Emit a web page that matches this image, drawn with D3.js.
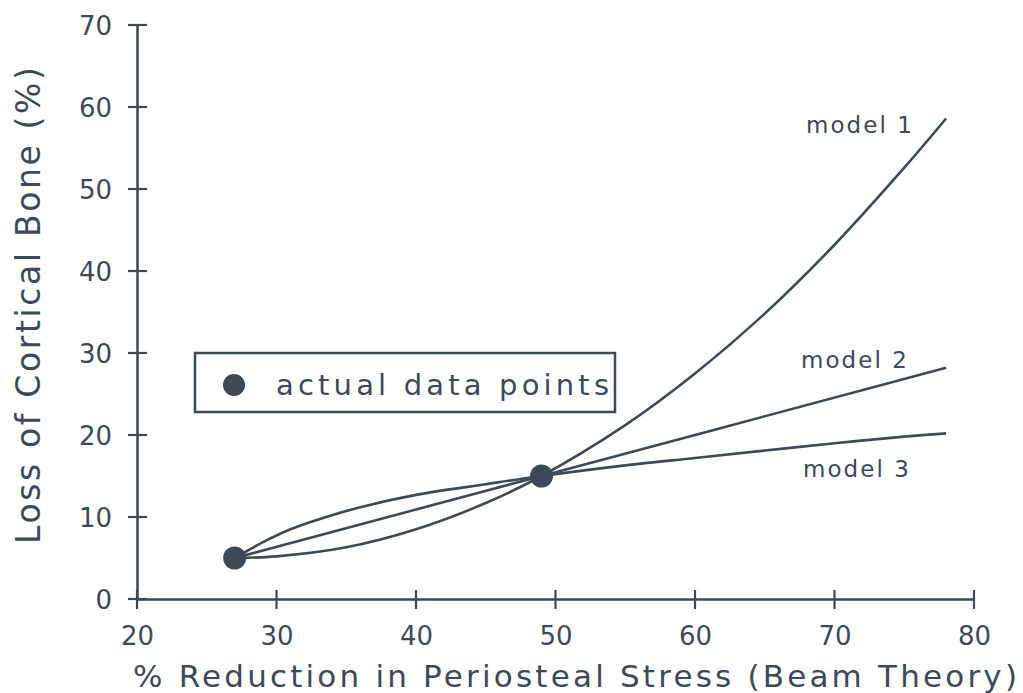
<!DOCTYPE html>
<html><head><meta charset="utf-8">
<script src="https://cdn.jsdelivr.net/npm/d3@7"></script>
<style>body{margin:0;background:#fff}svg{display:block}</style>
</head><body>
<svg id="chart" width="1023" height="693"></svg>
<script>
// ---- data ----
const xTicks = [20, 30, 40, 50, 60, 70, 80];
const yTicks = [0, 10, 20, 30, 40, 50, 60, 70];
const pointsX = [27, 49];
const pointsY = [5, 15];
const model1X = [27, 30, 35, 40, 45, 49, 55, 60, 65, 70, 75, 78];
const model1Y = [5, 5.2, 6.3, 8.5, 11.7, 15, 21.2, 27.5, 34.8, 43.2, 52.6, 58.6];
const model2X = [27, 49, 78];
const model2Y = [5, 15, 28.2];
const model3X = [27, 29, 31, 33, 36, 40, 45, 49, 55, 60, 65, 70, 75, 78];
const model3Y = [5, 6.9, 8.5, 9.7, 11.2, 12.7, 14.0, 15, 16.3, 17.2, 18.1, 19.0, 19.8, 20.2];
const modelNames = ["model 1", "model 2", "model 3"];
const legendLabel = "actual data points";
const xTitle = "% Reduction in Periosteal Stress (Beam Theory)";
const yTitle = "Loss of Cortical Bone (%)";

const col = "#3e4957";
const font = "'DejaVu Sans', sans-serif";
const svg = d3.select("#chart");

const x = d3.scaleLinear().domain([20, 80]).range([137, 974]);
const y = d3.scaleLinear().domain([0, 70]).range([599, 25]);

// axes (labels + domain from d3 axis; crossing ticks drawn from the same scales)
const gx = svg.append("g").attr("transform", `translate(0,${y(0)})`)
  .call(d3.axisBottom(x).tickValues(xTicks).tickSize(0).tickSizeOuter(0));
gx.select(".domain").attr("stroke", col).attr("stroke-width", 2.5);
gx.selectAll(".tick line").remove();
gx.selectAll(".tick text").attr("y", 46).attr("dy", 0).attr("fill", col)
  .style("font-family", font).style("font-size", "26px");

const gy = svg.append("g").attr("transform", `translate(${x(20)},0)`)
  .call(d3.axisLeft(y).tickValues(yTicks).tickSize(0).tickSizeOuter(0));
gy.select(".domain").attr("stroke", col).attr("stroke-width", 2.5);
gy.selectAll(".tick line").remove();
gy.selectAll(".tick text").attr("x", -25).attr("dy", "0.35em").attr("fill", col)
  .style("font-family", font).style("font-size", "26px");

svg.selectAll("line.xt").data(xTicks).join("line").attr("class", "xt")
  .attr("x1", d => x(d)).attr("x2", d => x(d))
  .attr("y1", y(0) - 9).attr("y2", y(0) + 10)
  .attr("stroke", col).attr("stroke-width", 2.2);
svg.selectAll("line.yt").data(yTicks).join("line").attr("class", "yt")
  .attr("x1", x(20) - 9).attr("x2", x(20) + 10)
  .attr("y1", d => y(d)).attr("y2", d => y(d))
  .attr("stroke", col).attr("stroke-width", 2.2);

// curves
const line = d3.line().x(d => x(d[0])).y(d => y(d[1])).curve(d3.curveCatmullRom.alpha(0.5));
const models = [
  d3.zip(model1X, model1Y),
  d3.zip(model2X, model2Y),
  d3.zip(model3X, model3Y)
];
svg.selectAll("path.model").data(models).join("path")
  .attr("class", "model").attr("d", line)
  .attr("fill", "none").attr("stroke", col).attr("stroke-width", 2.6);

// model labels
const labelPos = [[806, 133], [801, 368], [803, 477]];
svg.selectAll("text.mlab").data(modelNames).join("text")
  .attr("class", "mlab")
  .attr("x", (d, i) => labelPos[i][0]).attr("y", (d, i) => labelPos[i][1])
  .attr("textLength", 106).attr("lengthAdjust", "spacing")
  .attr("fill", col).style("font-family", font).style("font-size", "23px")
  .text(d => d);

// data points
svg.selectAll("circle.pt").data(d3.zip(pointsX, pointsY)).join("circle")
  .attr("class", "pt").attr("cx", d => x(d[0])).attr("cy", d => y(d[1]))
  .attr("r", 11.5).attr("fill", col);

// legend
svg.append("rect").attr("x", 195).attr("y", 353).attr("width", 420).attr("height", 59)
  .attr("fill", "#fff").attr("stroke", col).attr("stroke-width", 2.5);
svg.append("circle").attr("cx", 234).attr("cy", 385).attr("r", 11).attr("fill", col);
svg.append("text").attr("x", 276).attr("y", 395)
  .attr("textLength", 333).attr("lengthAdjust", "spacing")
  .attr("fill", col).style("font-family", font).style("font-size", "29px")
  .text(legendLabel);

// axis titles
svg.append("text").attr("x", 133).attr("y", 687)
  .attr("textLength", 884).attr("lengthAdjust", "spacing")
  .attr("fill", col).style("font-family", font).style("font-size", "31px")
  .text(xTitle);
svg.append("text").attr("transform", "translate(40,544) rotate(-90)")
  .attr("x", 0).attr("y", 0)
  .attr("textLength", 477).attr("lengthAdjust", "spacing")
  .attr("fill", col).style("font-family", font).style("font-size", "33px")
  .text(yTitle);
</script>
</body></html>
